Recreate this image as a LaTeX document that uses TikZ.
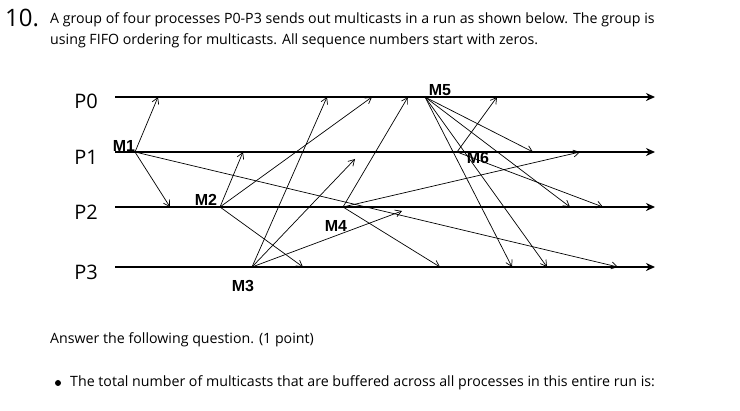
\documentclass[tikz,border=0pt]{standalone}
\usepackage{fontspec}
\usetikzlibrary{arrows.meta}
\setmainfont{Open Sans}
\newfontfamily\lab{Liberation Sans}
\begin{document}
\begin{tikzpicture}[x=1pt,y=-1pt,
  proc/.style={line width=2.2pt,-{Stealth[length=9pt,width=8pt]}},
  msg/.style={line width=0.7pt,-{Straight Barb[length=6pt,width=7pt]}},
  ml/.style={font=\lab\bfseries\fontsize{16}{16}\selectfont,inner sep=0pt},
  pl/.style={font=\fontsize{20}{20}\selectfont,inner sep=0pt},
  tx/.style={font=\fontsize{14.2}{16}\selectfont,anchor=west,inner sep=0pt}]
\useasboundingbox (0,0) rectangle (740,411);
\node[anchor=west,inner sep=0pt,font=\fontsize{24}{24}\selectfont] (num) at (5,18) {10.};
\node[tx] (t1) at (50,20) {A group of four processes P0-P3 sends out multicasts in a run as shown below. The group is};
\node[tx] (t2) at (50,41) {using FIFO ordering for multicasts. All sequence numbers start with zeros.};
\node[pl] (p0) at (86,101) {P0};
\node[pl] (p1) at (86,157) {P1};
\node[pl] (p2) at (86,212) {P2};
\node[pl] (p3) at (86,272) {P3};
\coordinate (a0) at (115,97); \coordinate (b0) at (655,97);
\coordinate (a1) at (115,152); \coordinate (b1) at (655,152);
\coordinate (a2) at (115,207); \coordinate (b2) at (655,207);
\coordinate (a3) at (115,267); \coordinate (b3) at (655,267);
\foreach \i in {0,1,2,3} \draw[proc] (a\i) -- (b\i);
% origins
\coordinate (m1) at (135,152);
\coordinate (m2) at (220,207);
\coordinate (m3) at (252,267);
\coordinate (m4) at (343,207);
\coordinate (m5) at (425,97);
\coordinate (m6) at (457,152);
\node[ml] (l1) at (124,146) {M1};
\node[ml] (l2) at (206,200) {M2};
\node[ml] (l3) at (243,286) {M3};
\node[ml] (l4) at (336,226) {M4};
\node[ml] (l5) at (440,90) {M5};
\node[ml] (l6) at (478,158) {M6};
% ends
\coordinate (e1a) at (158,97); \coordinate (e1b) at (170,207); \coordinate (e1c) at (618,267);
\coordinate (e2a) at (243,152); \coordinate (e2b) at (372,97); \coordinate (e2c) at (303,267);
\coordinate (e3a) at (327,97); \coordinate (e3b) at (355,159); \coordinate (e3c) at (402,211);
\coordinate (e4a) at (408,97); \coordinate (e4b) at (580,152); \coordinate (e4c) at (440,267);
\coordinate (e5a) at (533,152); \coordinate (e5b) at (570,207); \coordinate (e5c) at (512,267); \coordinate (e5d) at (547,267);
\coordinate (e6a) at (497,97); \coordinate (e6b) at (603,207);
\foreach \s/\e in {m1/e1a,m1/e1b,m1/e1c,m2/e2a,m2/e2b,m2/e2c,m3/e3a,m3/e3b,m3/e3c,m4/e4a,m4/e4b,m4/e4c,m5/e5a,m5/e5b,m5/e5c,m5/e5d,m6/e6a,m6/e6b}
  \draw[msg] (\s) -- (\e);
\node[tx] (q) at (50,340) {Answer the following question. (1 point)};
\node[circle,fill,inner sep=0pt,minimum size=6pt] (bul) at (58,383) {};
\node[tx] (q2) at (70,383) {The total number of multicasts that are buffered across all processes in this entire run is:};
\end{tikzpicture}
\end{document}
